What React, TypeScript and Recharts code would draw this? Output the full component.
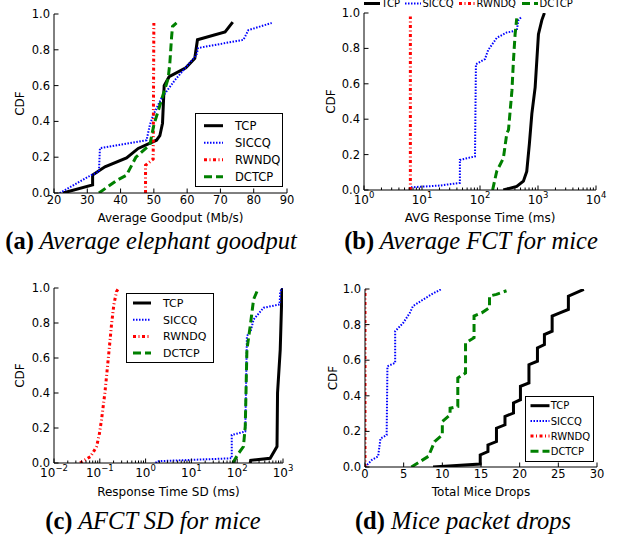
import React from "react";
import { LineChart, Line, XAxis, YAxis, Legend } from "recharts";

type Pt = [number, number];

// values: [x value, CDF]

// (a) average elephant goodput (Mb/s)
const goodputTCP: Pt[] = [
  [22.7, 0], [31.6, 0.045], [31.6, 0.1], [35.3, 0.146], [41.8, 0.196], [45.3, 0.249],
  [50.8, 0.295], [51.8, 0.32], [52.6, 0.39], [53.1, 0.6], [54.6, 0.65], [59.6, 0.7],
  [62.3, 0.753], [63.1, 0.856], [71.4, 0.9], [73.7, 0.955],
];
const goodputSICCQ: Pt[] = [
  [21.7, 0], [31.2, 0.1], [33.5, 0.12], [33.8, 0.25], [47.8, 0.295], [48.8, 0.38],
  [49.8, 0.435], [52.3, 0.53], [56.3, 0.63], [59.8, 0.706], [62.8, 0.77], [63.3, 0.81],
  [76.9, 0.856], [78.4, 0.91], [85.4, 0.95],
];
const goodputRWNDQ: Pt[] = [[47.5, 0], [47.5, 0.155], [49.8, 0.19], [50, 0.95]];
const goodputDCTCP: Pt[] = [
  [33.5, 0], [38.8, 0.07], [41.8, 0.1], [44.6, 0.2], [48.8, 0.27], [50, 0.38],
  [52.8, 0.55], [54.3, 0.64], [54.8, 0.725], [55.3, 0.865], [55.6, 0.93], [56.8, 0.95],
];

// (b) average response time for mice (ms)
const fctTCP: Pt[] = [
  [252, 0], [430, 0.02], [560, 0.05], [640, 0.105], [710, 0.26], [783, 0.43],
  [893, 0.58], [1018, 0.88], [1165, 0.96], [1290, 1],
];
const fctSICCQ: Pt[] = [
  [6.2, 0], [6.4, 0.015], [20, 0.025], [45, 0.04], [45, 0.17], [82, 0.19], [85, 0.71],
  [122, 0.74], [138, 0.79], [195, 0.86], [290, 0.89], [430, 0.9], [460, 0.96], [525, 0.98],
];
const fctRWNDQ: Pt[] = [[6.3, 0], [6.3, 0.98]];
const fctDCTCP: Pt[] = [
  [165, 0], [194, 0.105], [253, 0.18], [290, 0.32], [310, 0.34], [355, 0.56],
  [377, 0.73], [403, 0.88], [430, 0.97],
];

// (c) response time SD for mice (ms)
const sdTCP: Pt[] = [
  [192, 0], [197, 0.015], [525, 0.027], [740, 0.094], [760, 0.4], [870, 0.648],
  [950, 0.99], [1000, 1],
];
const sdSICCQ: Pt[] = [
  [1.68, 0], [1.75, 0.01], [76, 0.027], [76, 0.16], [150, 0.18], [163, 0.725],
  [200, 0.76], [228, 0.82], [376, 0.887], [843, 0.906], [870, 0.98], [960, 1],
];
const sdRWNDQ: Pt[] = [
  [0.037, 0], [0.063, 0.037], [0.085, 0.094], [0.097, 0.16], [0.109, 0.247],
  [0.129, 0.4], [0.145, 0.533], [0.16, 0.648], [0.18, 0.79], [0.203, 0.906],
  [0.232, 0.98], [0.26, 1],
];
const sdDCTCP: Pt[] = [
  [80, 0], [107, 0.055], [137, 0.094], [150, 0.21], [163, 0.648], [192, 0.78],
  [228, 0.935], [270, 0.98],
];

// (d) total mice drops
const dropsTCP: Pt[] = [
  [8.8, 0], [14.9, 0.017], [14.9, 0.068], [15.9, 0.087], [15.9, 0.124], [17, 0.143],
  [17, 0.218], [18.1, 0.237], [18.1, 0.284], [19.2, 0.303], [19.2, 0.36], [20.1, 0.378],
  [20.1, 0.453], [21.2, 0.472], [21.2, 0.575], [22.3, 0.594], [22.3, 0.669], [23.2, 0.688],
  [23.2, 0.744], [24.2, 0.763], [24.2, 0.848], [25.2, 0.866], [26.3, 0.885], [26.3, 0.96],
  [28.3, 0.998],
];
const dropsSICCQ: Pt[] = [
  [0, 0], [0.9, 0.04], [1.7, 0.06], [2, 0.16], [2.8, 0.18], [2.9, 0.566], [3.9, 0.585],
  [3.9, 0.763], [4.95, 0.81], [5.8, 0.866], [6.2, 0.904], [7.5, 0.94], [8.6, 0.97], [9.9, 1],
];
const dropsRWNDQ: Pt[] = [[0, 0], [0, 1]];
const dropsDCTCP: Pt[] = [
  [6, 0], [8.2, 0.06], [9, 0.143], [10, 0.18], [10, 0.256], [11, 0.293], [11, 0.33],
  [12, 0.34], [12, 0.5], [13, 0.528], [13, 0.697], [14.1, 0.726], [14.1, 0.848],
  [15.1, 0.866], [16.1, 0.895], [16.1, 0.96], [17, 0.97], [18.3, 0.99],
];

const SERIES = ["TCP", "SICCQ", "RWNDQ", "DCTCP"];
const cdfTicks = [0, 0.2, 0.4, 0.6, 0.8, 1];
const goodputTicks = [20, 30, 40, 50, 60, 70, 80, 90];
const fctDecades = [1, 10, 100, 1000, 10000];
const sdDecades = [0.01, 0.1, 1, 10, 100, 1000];
const dropsTicks = [0, 5, 10, 15, 20, 25, 30];

const FONT = "'DejaVu Sans', sans-serif";
const LOOK: Record<string, { stroke: string; width: number; dash?: string }> = {
  TCP: { stroke: "#000000", width: 3 },
  SICCQ: { stroke: "#0000ff", width: 2, dash: "1.5 1.5" },
  RWNDQ: { stroke: "#ff0000", width: 3, dash: "3 2.5 1 2.5" },
  DCTCP: { stroke: "#008000", width: 3, dash: "8 4" },
};

const rows = (pts: Pt[]) => pts.map(([x, y]) => ({ x, y }));
const withMinors = (decades: number[]) =>
  decades.flatMap((d, i) =>
    i === decades.length - 1 ? [d] : [d, 2, 3, 4, 5, 6, 7, 8, 9].map((k, j) => (j === 0 ? d : d * k))
  );
const power = (v: number) => {
  const e = Math.round(Math.log10(v));
  return e < 0 ? "\u2212" + Math.abs(e) : String(e);
};

type Side = "bottom" | "top" | "left" | "right";

// inward ticks, matplotlib style; labels only on bottom/left
const tickFor =
  (side: Side, majors: number[] | null, kind: "lin" | "log" | "cdf" | "none") =>
  (p: any) => {
    const v: number = p.payload.value;
    const major = !majors || majors.includes(v);
    const len = major ? 4.5 : 2.5;
    const { x, y } = p;
    let line;
    if (side === "bottom") line = <line x1={x} x2={x} y1={y} y2={y - len} />;
    else if (side === "top") line = <line x1={x} x2={x} y1={y} y2={y + len} />;
    else if (side === "left") line = <line x1={x} x2={x + len} y1={y} y2={y} />;
    else line = <line x1={x} x2={x - len} y1={y} y2={y} />;
    let label = null;
    if (major && kind === "lin")
      label = (
        <text x={x} y={y + 10.5} textAnchor="middle" fontSize={11.5}>
          {v}
        </text>
      );
    if (major && kind === "log")
      label = (
        <text x={x} y={y + 14} textAnchor="middle" fontSize={12}>
          10
          <tspan dy={-6} fontSize={8.5}>
            {power(v)}
          </tspan>
        </text>
      );
    if (kind === "cdf")
      label = (
        <text x={x - 4} y={y + 4} textAnchor="end" fontSize={11.5}>
          {v.toFixed(1)}
        </text>
      );
    return (
      <g>
        <g stroke="#000" strokeWidth={1}>{line}</g>
        {label && (
          <g fill="#000" fontFamily={FONT}>
            {label}
          </g>
        )}
      </g>
    );
  };

type Box = { x: number; y: number; w: number; h: number; row0: number; gap: number; s0: number; s1: number; tx: number; fs: number };
type Strip = { x: number; y: number; starts: number[]; len: number; tx: number; fs: number };

function BoxLegend({ b }: { b: Box }) {
  return (
    <svg width={b.w} height={b.h} style={{ display: "block" }}>
      <rect x={0.5} y={0.5} width={b.w - 1} height={b.h - 1} fill="#fff" stroke="#000" />
      {SERIES.map((n, i) => {
        const cy = b.row0 + i * b.gap;
        const s = LOOK[n];
        return (
          <g key={n}>
            <line x1={b.s0} x2={b.s1} y1={cy} y2={cy} stroke={s.stroke} strokeWidth={s.width} strokeDasharray={s.dash} />
            <text x={b.tx} y={cy + b.fs * 0.36} fontSize={b.fs} fontFamily={FONT} fill="#000">
              {n}
            </text>
          </g>
        );
      })}
    </svg>
  );
}

function StripLegend({ s }: { s: Strip }) {
  return (
    <svg width={240} height={14} style={{ display: "block" }}>
      {SERIES.map((n, i) => {
        const l = LOOK[n];
        const x0 = s.starts[i];
        return (
          <g key={n}>
            <line x1={x0} x2={x0 + s.len} y1={6.5} y2={6.5} stroke={l.stroke} strokeWidth={l.width} strokeDasharray={l.dash} />
            <text x={x0 + s.tx} y={10} fontSize={s.fs} fontFamily={FONT} fill="#000">
              {n}
            </text>
          </g>
        );
      })}
    </svg>
  );
}

type PanelCfg = {
  plot: { x: number; y: number; w: number; h: number };
  domain: [number, number];
  log: boolean;
  ticks: number[];
  majors: number[] | null;
  xLabel: string;
  xLabelY: number;
  cdfX: number;
  lines: Pt[][];
  box?: Box;
  strip?: Strip;
};

const YW = 50;
const MT = 12;
const MR = 14;
const XH = 45;

function Panel({ c }: { c: PanelCfg }) {
  const left = c.plot.x - YW;
  const top = c.plot.y - MT;
  const width = YW + c.plot.w + MR;
  const height = MT + c.plot.h + XH;
  const plotBottom = c.plot.y + c.plot.h;
  const scale = c.log ? "log" : "linear";
  const xKind = c.log ? "log" : "lin";
  const legendPos = c.box
    ? { left: c.box.x - left, top: c.box.y - top, width: c.box.w, height: c.box.h }
    : { left: c.strip!.x - left, top: c.strip!.y - top, width: 240, height: 14 };
  return (
    <div style={{ position: "absolute", left, top }}>
      <LineChart width={width} height={height} margin={{ top: MT, right: MR, bottom: 0, left: 0 }}>
        <XAxis
          xAxisId="b"
          dataKey="x"
          type="number"
          scale={scale}
          domain={c.domain}
          ticks={c.ticks}
          interval={0}
          allowDataOverflow
          height={XH}
          tickSize={0}
          tickMargin={0}
          tickLine={false}
          axisLine={{ stroke: "#000" }}
          tick={tickFor("bottom", c.majors, xKind)}
          label={{
            value: c.xLabel,
            position: "insideBottom",
            offset: plotBottom + XH - c.xLabelY,
            fill: "#000",
            fontSize: 12,
            fontFamily: FONT,
          }}
        />
        <XAxis
          xAxisId="t"
          orientation="top"
          dataKey="x"
          type="number"
          scale={scale}
          domain={c.domain}
          ticks={c.ticks}
          interval={0}
          allowDataOverflow
          height={0}
          tickSize={0}
          tickMargin={0}
          tickLine={false}
          axisLine={{ stroke: "#000" }}
          tick={tickFor("top", c.majors, "none")}
        />
        <YAxis
          yAxisId="l"
          type="number"
          domain={[0, 1]}
          ticks={cdfTicks}
          interval={0}
          allowDataOverflow
          width={YW}
          tickSize={0}
          tickMargin={0}
          tickLine={false}
          axisLine={{ stroke: "#000" }}
          tick={tickFor("left", null, "cdf")}
          label={{
            value: "CDF",
            angle: -90,
            position: "insideLeft",
            offset: c.cdfX - left,
            fill: "#000",
            fontSize: 12,
            fontFamily: FONT,
            style: { textAnchor: "middle" },
          }}
        />
        <YAxis
          yAxisId="r"
          orientation="right"
          type="number"
          domain={[0, 1]}
          ticks={cdfTicks}
          interval={0}
          allowDataOverflow
          width={0}
          tickSize={0}
          tickMargin={0}
          tickLine={false}
          axisLine={{ stroke: "#000" }}
          tick={tickFor("right", null, "none")}
        />
        {c.lines.map((pts, i) => {
          const name = SERIES[i];
          const s = LOOK[name];
          return (
            <Line
              key={name}
              name={name}
              xAxisId="b"
              yAxisId="l"
              data={rows(pts)}
              dataKey="y"
              type="linear"
              stroke={s.stroke}
              strokeWidth={s.width}
              strokeDasharray={s.dash}
              dot={false}
              activeDot={false}
              isAnimationActive={false}
            />
          );
        })}
        <Legend
          layout="vertical"
          align="center"
          verticalAlign="middle"
          wrapperStyle={legendPos}
          content={() => (c.box ? <BoxLegend b={c.box} /> : <StripLegend s={c.strip!} />)}
        />
      </LineChart>
    </div>
  );
}

const panels: PanelCfg[] = [
  {
    plot: { x: 54, y: 14, w: 233, h: 179 },
    domain: [20, 90],
    log: false,
    ticks: goodputTicks,
    majors: null,
    xLabel: "Average Goodput (Mb/s)",
    xLabelY: 222,
    cdfX: 20,
    lines: [goodputTCP, goodputSICCQ, goodputRWNDQ, goodputDCTCP],
    box: { x: 195, y: 113, w: 88, h: 74, row0: 12.7, gap: 17, s0: 9, s1: 28, tx: 40, fs: 11.5 },
  },
  {
    plot: { x: 364, y: 13, w: 232, h: 177 },
    domain: [1, 10000],
    log: true,
    ticks: withMinors(fctDecades),
    majors: fctDecades,
    xLabel: "AVG Response Time (ms)",
    xLabelY: 222,
    cdfX: 331,
    lines: [fctTCP, fctSICCQ, fctRWNDQ, fctDCTCP],
    strip: { x: 364, y: -3, starts: [0, 41, 95, 158], len: 16, tx: 17.5, fs: 10 },
  },
  {
    plot: { x: 54, y: 288, w: 229, h: 175 },
    domain: [0.01, 1000],
    log: true,
    ticks: withMinors(sdDecades),
    majors: sdDecades,
    xLabel: "Response Time SD (ms)",
    xLabelY: 496,
    cdfX: 20,
    lines: [sdTCP, sdSICCQ, sdRWNDQ, sdDCTCP],
    box: { x: 126, y: 293, w: 88, h: 70, row0: 10, gap: 16.7, s0: 7, s1: 25, tx: 37, fs: 11 },
  },
  {
    plot: { x: 365, y: 289, w: 232, h: 178 },
    domain: [0, 30],
    log: false,
    ticks: dropsTicks,
    majors: null,
    xLabel: "Total Mice Drops",
    xLabelY: 496,
    cdfX: 333,
    lines: [dropsTCP, dropsSICCQ, dropsRWNDQ, dropsDCTCP],
    box: { x: 525, y: 396, w: 69, h: 66, row0: 9.7, gap: 15.2, s0: 5.5, s1: 24.5, tx: 25.7, fs: 10 },
  },
];

const captions = [
  { x: 151, y: 249, tag: "(a)", text: "Average elephant goodput" },
  { x: 471, y: 249, tag: "(b)", text: "Average FCT for mice" },
  { x: 153, y: 529, tag: "(c)", text: "AFCT SD for mice" },
  { x: 463, y: 529, tag: "(d)", text: "Mice packet drops" },
];

export default function App() {
  return (
    <div style={{ position: "absolute", left: 0, top: 0, width: 629, height: 539, background: "#fff", overflow: "hidden" }}>
      <svg width={629} height={539} style={{ position: "absolute", left: 0, top: 0 }}>
        {captions.map((c) => (
          <text key={c.tag} x={c.x} y={c.y} textAnchor="middle" fontSize={24.5} fontFamily="'Liberation Serif', 'Times New Roman', serif" fill="#000">
            <tspan fontWeight="bold">{c.tag}</tspan>
            <tspan fontStyle="italic"> {c.text}</tspan>
          </text>
        ))}
      </svg>
      {panels.map((p, i) => (
        <Panel key={i} c={p} />
      ))}
    </div>
  );
}
